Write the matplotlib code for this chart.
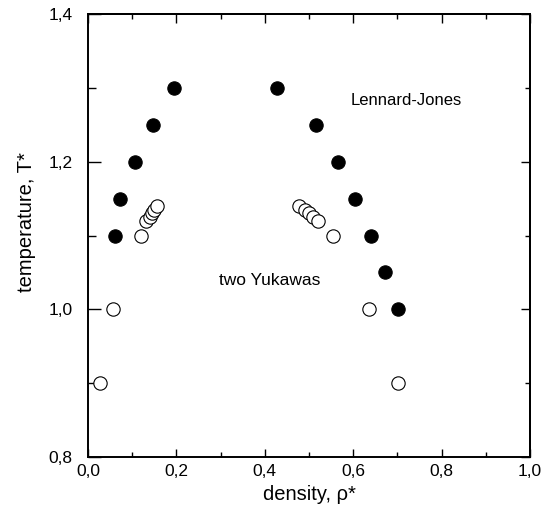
import matplotlib
matplotlib.use("Agg")
import matplotlib.pyplot as plt
from matplotlib.ticker import FixedLocator, FixedFormatter, MultipleLocator

plt.rcParams['font.family'] = ['Liberation Sans', 'DejaVu Sans']

# Lennard-Jones coexistence curve (filled symbols)
lj_density_gas = [0.061, 0.072, 0.106, 0.146, 0.194]
lj_temp_gas = [1.10, 1.15, 1.20, 1.25, 1.30]
lj_density_liq = [0.428, 0.515, 0.565, 0.605, 0.640, 0.672, 0.702]
lj_temp_liq = [1.30, 1.25, 1.20, 1.15, 1.10, 1.05, 1.00]

# two-Yukawa coexistence curve (open symbols)
yk_density_gas = [0.027, 0.057, 0.119, 0.131, 0.140, 0.145, 0.149, 0.156]
yk_temp_gas = [0.90, 1.00, 1.10, 1.12, 1.125, 1.13, 1.135, 1.14]
yk_density_liq = [0.478, 0.490, 0.500, 0.510, 0.520, 0.555, 0.636, 0.702]
yk_temp_liq = [1.14, 1.135, 1.13, 1.125, 1.12, 1.10, 1.00, 0.90]

x_ticks = [0.0, 0.2, 0.4, 0.6, 0.8, 1.0]
x_tick_labels = ['0,0', '0,2', '0,4', '0,6', '0,8', '1,0']
y_ticks = [0.8, 1.0, 1.2, 1.4]
y_tick_labels = ['0,8', '1,0', '1,2', '1,4']

fig = plt.figure(figsize=(5.43, 5.17), dpi=100)
ax = fig.add_axes([88 / 543, 1 - 457 / 517, 442 / 543, 443 / 517])

ms = 9.6
ax.plot(lj_density_gas + lj_density_liq, lj_temp_gas + lj_temp_liq, 'o',
        ms=ms, mfc='black', mec='black', mew=0.8, linestyle='none', zorder=3)
ax.plot(yk_density_gas + yk_density_liq, yk_temp_gas + yk_temp_liq, 'o',
        ms=ms, mfc='white', mec='black', mew=0.8, linestyle='none', zorder=3)

ax.set_xlim(0.0, 1.0)
ax.set_ylim(0.8, 1.4)

ax.xaxis.set_major_locator(FixedLocator(x_ticks))
ax.xaxis.set_major_formatter(FixedFormatter(x_tick_labels))
ax.xaxis.set_minor_locator(MultipleLocator(0.1))
ax.yaxis.set_major_locator(FixedLocator(y_ticks))
ax.yaxis.set_major_formatter(FixedFormatter(y_tick_labels))
ax.yaxis.set_minor_locator(MultipleLocator(0.1))

for s in ax.spines.values():
    s.set_linewidth(1.4)

ax.tick_params(axis='x', which='major', direction='in', length=6, width=1.0,
               labelsize=12.5, pad=5, bottom=True, top=False)
ax.tick_params(axis='x', which='minor', direction='in', length=3.5, width=1.0,
               bottom=True, top=False)
ax.tick_params(axis='y', which='major', direction='in', length=9.5, width=1.0,
               labelsize=12.5, pad=11, left=True, right=False)
ax.tick_params(axis='y', which='minor', direction='in', length=5.5, width=1.0,
               left=True, right=False)

# mirrored ticks on the top and right frame
top = ax.secondary_xaxis('top')
top.xaxis.set_major_locator(FixedLocator(x_ticks))
top.xaxis.set_minor_locator(MultipleLocator(0.1))
top.tick_params(axis='x', which='major', direction='in', length=6.5, width=1.0,
                labeltop=False)
top.tick_params(axis='x', which='minor', direction='in', length=3.5, width=1.0)
top.spines['top'].set_linewidth(1.4)

right = ax.secondary_yaxis('right')
right.yaxis.set_major_locator(FixedLocator(y_ticks))
right.yaxis.set_minor_locator(MultipleLocator(0.1))
right.tick_params(axis='y', which='major', direction='in', length=6.5, width=1.0,
                  labelright=False)
right.tick_params(axis='y', which='minor', direction='in', length=3.5, width=1.0)
right.spines['right'].set_linewidth(1.4)

ax.set_xlabel('density, ρ*', fontsize=14.5, labelpad=4)
ax.set_ylabel('temperature, T*', fontsize=14.5)
ax.yaxis.set_label_coords(-0.117, 0.53)

ax.text(0.72, 1.283, 'Lennard-Jones', fontsize=12, ha='center', va='center')
ax.text(0.41, 1.039, 'two Yukawas', fontsize=12.5, ha='center', va='center')

fig.savefig('out.png', dpi=100)
